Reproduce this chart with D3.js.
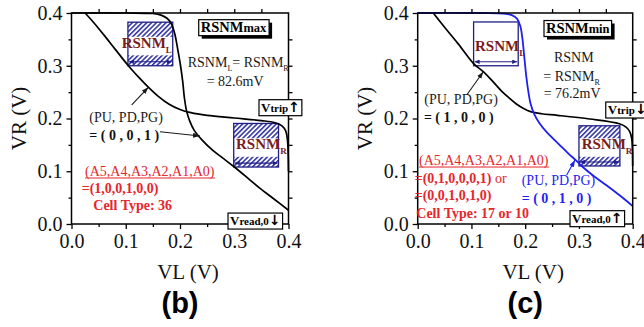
<!DOCTYPE html>
<html>
<head>
<meta charset="utf-8">
<script src="https://cdn.jsdelivr.net/npm/d3@7"></script>
<style>
  body { margin: 0; background: #fff; }
  svg { display: block; }
</style>
</head>
<body>
<svg id="chart" width="644" height="327"></svg>
<script>
// ---- axis ticks (V) ----
const majorTicks = [0.0, 0.1, 0.2, 0.3, 0.4];
const minorTicks = [0.05, 0.15, 0.25, 0.35];
const frameTicks = [0.05, 0.1, 0.15, 0.2, 0.25, 0.3, 0.35];
const tickLabels = ["0.0", "0.1", "0.2", "0.3", "0.4"];

// ---- (b) butterfly curves, points are [VL, VR] in volts ----
const curveB1 = [[0.025, 0.400], [0.040, 0.383], [0.060, 0.358], [0.080, 0.332], [0.104, 0.301],
  [0.125, 0.277], [0.142, 0.259], [0.160, 0.242], [0.180, 0.227], [0.200, 0.217], [0.220, 0.211],
  [0.250, 0.206], [0.300, 0.201], [0.350, 0.196], [0.375, 0.192], [0.388, 0.186], [0.395, 0.176],
  [0.398, 0.160], [0.3995, 0.130], [0.400, 0.100]];
const curveB2 = [[0.000, 0.400], [0.100, 0.400], [0.150, 0.399], [0.165, 0.396], [0.176, 0.390],
  [0.184, 0.380], [0.190, 0.362], [0.196, 0.330], [0.201, 0.300], [0.205, 0.270], [0.208, 0.240],
  [0.212, 0.215], [0.218, 0.195], [0.226, 0.178], [0.240, 0.160], [0.260, 0.140], [0.279, 0.125],
  [0.299, 0.109], [0.325, 0.087], [0.347, 0.068], [0.375, 0.046], [0.400, 0.026]];

// ---- (c) butterfly curves ----
const curveC1 = [[0.029, 0.400], [0.050, 0.373], [0.075, 0.342], [0.104, 0.304], [0.123, 0.288],
  [0.140, 0.270], [0.157, 0.251], [0.170, 0.239], [0.183, 0.228], [0.197, 0.219], [0.210, 0.213],
  [0.230, 0.209], [0.260, 0.206], [0.320, 0.199], [0.375, 0.190], [0.387, 0.184], [0.394, 0.176],
  [0.398, 0.163], [0.3995, 0.140], [0.400, 0.110]];
const curveC2 = [[0.000, 0.400], [0.120, 0.400], [0.160, 0.399], [0.175, 0.396], [0.185, 0.389],
  [0.191, 0.375], [0.195, 0.350], [0.198, 0.320], [0.202, 0.280], [0.206, 0.250], [0.210, 0.228],
  [0.217, 0.208], [0.226, 0.192], [0.240, 0.174], [0.262, 0.152], [0.280, 0.134], [0.295, 0.120],
  [0.305, 0.110], [0.325, 0.093], [0.349, 0.075], [0.375, 0.055], [0.400, 0.034]];

// ---- noise-margin squares: [VL of left edge, VR of bottom edge, side] ----
const rsnmB = 0.0826;          // 82.6 mV
const rsnmCR = 0.0762;         // 76.2 mV
const rsnmCL = 0.0830;
const squaresB = [[0.104, 0.300, rsnmB], [0.299, 0.108, rsnmB]];
const squaresC = [[0.104, 0.300, rsnmCL], [0.300, 0.110, rsnmCR]];

const SERIF = "'Liberation Serif', 'Times New Roman', serif";
const ARROWFONT = "'DejaVu Sans', sans-serif";
const RED = "#e6262c", MAROON = "#7a1c1c", NAVY = "#1f1f86", BLUE = "#1f1ff0", INK = "#1a1a1a";

const svg = d3.select("#chart");
const defs = svg.append("defs");

// diagonal hatching
const pat = defs.append("pattern").attr("id", "hatch").attr("patternUnits", "userSpaceOnUse")
  .attr("width", 3.4).attr("height", 3.4).attr("patternTransform", "rotate(45)");
pat.append("rect").attr("width", 3.4).attr("height", 3.4).attr("fill", "#fff");
pat.append("line").attr("x1", 0.8).attr("y1", 0).attr("x2", 0.8).attr("y2", 3.4)
  .attr("stroke", "#2a2aa0").attr("stroke-width", 1.5);

function arrowMarker(id, color, len, wid) {
  defs.append("marker").attr("id", id).attr("markerUnits", "userSpaceOnUse")
    .attr("viewBox", `0 0 ${len} ${wid}`).attr("refX", len).attr("refY", wid / 2)
    .attr("markerWidth", len).attr("markerHeight", wid).attr("orient", "auto-start-reverse")
    .append("path").attr("d", `M0,0 L${len},${wid / 2} L0,${wid} Z`).attr("fill", color);
}
arrowMarker("arrK", INK, 7, 5);
arrowMarker("arrB", BLUE, 7, 5);
arrowMarker("arrN", NAVY, 5, 4.5);

// rich text: parts = [{t, s, w, c, dy}]
function rich(g, x, y, parts, base) {
  const t = g.append("text").attr("x", x).attr("y", y)
    .attr("font-family", base.f || SERIF).attr("fill", base.c || INK);
  parts.forEach(p => {
    const sp = t.append("tspan").text(p.t).attr("font-size", p.s || base.s)
      .attr("font-weight", p.w || base.w || "normal");
    if (p.dy) sp.attr("dy", p.dy);
    if (p.c) sp.attr("fill", p.c);
    if (p.f) sp.attr("font-family", p.f);
  });
  return t;
}

function drawPanel(cfg) {
  const x = d3.scaleLinear().domain([0, 0.4]).range([cfg.left, cfg.right]);
  const y = d3.scaleLinear().domain([0, 0.4]).range([224, 13]);
  const g = svg.append("g");

  // noise-margin squares
  cfg.squares.forEach((sq, i) => {
    const [vl, vr, s] = sq;
    const bx = x(vl), by = y(vr + s), bw = x(vl + s) - x(vl), bh = y(vr) - y(vr + s);
    const hatched = cfg.hatched[i];
    g.append("rect").attr("x", bx).attr("y", by).attr("width", bw).attr("height", bh)
      .attr("fill", hatched ? "url(#hatch)" : "#fff");
    const lb = cfg.boxLabels[i];
    if (hatched) {
      g.append("rect").attr("x", bx).attr("y", y(lb.vr) - 11).attr("width", bw).attr("height", 18.5)
        .attr("fill", "#fff");
    }
    g.append("rect").attr("x", bx).attr("y", by).attr("width", bw).attr("height", bh)
      .attr("fill", "none").attr("stroke", NAVY).attr("stroke-width", 1.3);
    g.append("line").attr("x1", bx + 1).attr("x2", bx + bw - 1)
      .attr("y1", by + bh - 4).attr("y2", by + bh - 4)
      .attr("stroke", NAVY).attr("stroke-width", 1.2)
      .attr("marker-start", "url(#arrN)").attr("marker-end", "url(#arrN)");
    rich(g, x(lb.vl), y(lb.vr), [{ t: "RSNM" }, { t: lb.sub, s: 9, dy: 5 }],
      { s: 15, w: "bold", c: MAROON });
  });

  // curves
  const line = d3.line().x(d => x(d[0])).y(d => y(d[1])).curve(d3.curveCatmullRom.alpha(0.5));
  cfg.curves.forEach(c => {
    g.append("path").datum(c.data).attr("d", line).attr("fill", "none")
      .attr("stroke", c.color).attr("stroke-width", c.width);
  });

  // frame and axes
  g.append("rect").attr("x", x(0)).attr("y", y(0.4)).attr("width", x(0.4) - x(0))
    .attr("height", y(0) - y(0.4)).attr("fill", "none").attr("stroke", "#000").attr("stroke-width", 1.5);

  const styleAxis = sel => {
    sel.select(".domain").remove();
    sel.selectAll(".tick line").attr("stroke", "#000").attr("stroke-width", 1.3);
  };
  const fmt = d => tickLabels[majorTicks.indexOf(d)];
  g.append("g").attr("transform", `translate(0,${y(0)})`)
    .call(d3.axisBottom(x).tickValues(majorTicks).tickFormat(fmt).tickSize(5).tickPadding(5))
    .call(styleAxis)
    .call(s => s.selectAll("text").attr("font-family", SERIF).attr("font-size", 20).attr("fill", "#111"));
  g.append("g").attr("transform", `translate(0,${y(0)})`)
    .call(d3.axisBottom(x).tickValues(minorTicks).tickFormat("").tickSize(3)).call(styleAxis);
  g.append("g").attr("transform", `translate(${x(0)},0)`)
    .call(d3.axisLeft(y).tickValues(majorTicks).tickFormat(fmt).tickSize(5).tickPadding(4))
    .call(styleAxis)
    .call(s => s.selectAll("text").attr("font-family", SERIF).attr("font-size", 20).attr("fill", "#111"));
  g.append("g").attr("transform", `translate(${x(0)},0)`)
    .call(d3.axisLeft(y).tickValues(minorTicks).tickFormat("").tickSize(3)).call(styleAxis);
  g.append("g").attr("transform", `translate(0,${y(0.4)})`)
    .call(d3.axisTop(x).tickValues(frameTicks).tickFormat("").tickSize(4)).call(styleAxis);
  g.append("g").attr("transform", `translate(${x(0.4)},0)`)
    .call(d3.axisRight(y).tickValues(frameTicks).tickFormat("").tickSize(4)).call(styleAxis);

  // axis titles
  g.append("text").attr("x", (x(0) + x(0.4)) / 2 + 8).attr("y", 279).attr("text-anchor", "middle")
    .attr("font-family", SERIF).attr("font-size", 21).attr("fill", "#111").text("VL (V)");
  g.append("text").attr("transform", `translate(${x(0) - 46},${(y(0) + y(0.4)) / 2}) rotate(-90)`)
    .attr("text-anchor", "middle").attr("font-family", SERIF).attr("font-size", 21).attr("fill", "#111")
    .text("VR (V)");
  g.append("text").attr("x", (x(0) + x(0.4)) / 2).attr("y", 313).attr("text-anchor", "middle")
    .attr("font-family", "'Liberation Sans', Arial, sans-serif").attr("font-weight", "bold")
    .attr("font-size", 29).attr("fill", "#000").text(cfg.tag);

  // framed labels
  cfg.tags.forEach(tg => {
    const t = rich(g, x(tg.vl), y(tg.vr), tg.parts, { s: 14, w: "bold", c: "#000" });
    const bb = t.node().getBBox();
    const r = { x: bb.x - 2, y: bb.y + 1, w: bb.width + 4, h: bb.height };
    if (tg.shadow) {
      g.insert("rect", () => t.node()).attr("x", r.x + 3).attr("y", r.y + 3).attr("width", r.w)
        .attr("height", r.h).attr("fill", "#000");
    }
    g.insert("rect", () => t.node()).attr("x", r.x).attr("y", r.y).attr("width", r.w).attr("height", r.h)
      .attr("fill", "#fff").attr("stroke", "#000").attr("stroke-width", 1.2);
  });

  // annotations
  cfg.notes.forEach(n => {
    const t = rich(g, x(n.vl), y(n.vr), n.parts, { s: n.s || 14, w: n.w, c: n.c });
    if (n.underline) {
      const bb = t.node().getBBox();
      g.append("line").attr("x1", bb.x).attr("x2", bb.x + bb.width)
        .attr("y1", y(n.vr) + 2).attr("y2", y(n.vr) + 2)
        .attr("stroke", n.c).attr("stroke-width", 1);
    }
  });
  cfg.pointers.forEach(p => {
    g.append("line").attr("x1", x(p.from[0])).attr("y1", y(p.from[1]))
      .attr("x2", x(p.to[0])).attr("y2", y(p.to[1]))
      .attr("stroke", p.color).attr("stroke-width", 1.1)
      .attr("marker-end", p.color === BLUE ? "url(#arrB)" : "url(#arrK)");
  });
}

drawPanel({
  left: 71.5, right: 288.5, tag: "(b)",
  squares: squaresB, hatched: [true, true],
  boxLabels: [{ vl: 0.0925, vr: 0.334, sub: "L" }, { vl: 0.3032, vr: 0.1416, sub: "R" }],
  curves: [{ data: curveB1, color: "#000", width: 1.7 }, { data: curveB2, color: "#000", width: 1.7 }],
  tags: [
    { vl: 0.2382, vr: 0.3646, shadow: true, parts: [{ t: "RSNM", s: 14.5 }, { t: "max", s: 12.5 }] },
    { vl: 0.3493, vr: 0.2129, parts: [{ t: "V", s: 13 }, { t: "trip", s: 11 }, { t: "↑", f: ARROWFONT, s: 14 }] },
    { vl: 0.2922, vr: -0.002, parts: [{ t: "V", s: 13 }, { t: "read,0", s: 11 }, { t: "↓", f: ARROWFONT, s: 14 }] }
  ],
  notes: [
    { vl: 0.2142, vr: 0.2982, parts: [{ t: "RSNM" }, { t: "L", s: 8, dy: 4 }, { t: "= RSNM", dy: -4 }, { t: "R", s: 8, dy: 4 }] },
    { vl: 0.2492, vr: 0.2616, parts: [{ t: "= 82.6mV" }] },
    { vl: 0.0328, vr: 0.1939, parts: [{ t: "(PU, PD,PG)" }], c: "#222" },
    { vl: 0.0328, vr: 0.1592, parts: [{ t: "= ( 0 , 0 , 1 )" }], w: "bold", c: "#111" },
    { vl: 0.0249, vr: 0.0910, parts: [{ t: "(A5,A4,A3,A2,A1,A0)" }], c: RED, underline: true },
    { vl: 0.0188, vr: 0.0593, parts: [{ t: "=(1,0,0,1,0,0)" }], w: "bold", c: RED },
    { vl: 0.0402, vr: 0.0265, parts: [{ t: "Cell Type: 36" }], w: "bold", c: RED }
  ],
  pointers: [
    { from: [0.111, 0.2256], to: [0.1416, 0.2592], color: INK },
    { from: [0.1631, 0.1750], to: [0.2369, 0.1668], color: INK }
  ]
});

drawPanel({
  left: 417.7, right: 632.7, tag: "(c)",
  squares: squaresC, hatched: [false, true],
  boxLabels: [{ vl: 0.1066, vr: 0.3285, sub: "L" }, { vl: 0.3051, vr: 0.1416, sub: "R" }],
  curves: [{ data: curveC1, color: "#000", width: 1.7 }, { data: curveC2, color: BLUE, width: 1.8 }],
  tags: [
    { vl: 0.2387, vr: 0.3630, shadow: true, parts: [{ t: "RSNM", s: 14.5 }, { t: "min", s: 12.5 }] },
    { vl: 0.3536, vr: 0.2085, parts: [{ t: "V", s: 13 }, { t: "trip", s: 11 }, { t: "↓", f: ARROWFONT, s: 14 }] },
    { vl: 0.2871, vr: 0.0025, parts: [{ t: "V", s: 13 }, { t: "read,0", s: 11 }, { t: "↑", f: ARROWFONT, s: 14 }] }
  ],
  notes: [
    { vl: 0.2536, vr: 0.3071, parts: [{ t: "RSNM" }] },
    { vl: 0.2337, vr: 0.2705, parts: [{ t: "= RSNM" }, { t: "R", s: 8, dy: 4 }] },
    { vl: 0.2344, vr: 0.2389, parts: [{ t: "= 76.2mV" }] },
    { vl: 0.0123, vr: 0.2269, parts: [{ t: "(PU, PD,PG)" }], c: "#222" },
    { vl: 0.0115, vr: 0.1939, parts: [{ t: "= ( 1 , 0 , 0 )" }], w: "bold", c: "#111" },
    { vl: 0.0024, vr: 0.1118, parts: [{ t: "(A5,A4,A3,A2,A1,A0)" }], c: RED, underline: true },
    { vl: -0.0056, vr: 0.0772, parts: [{ t: "=(0,1,0,0,0,1)", w: "bold" }, { t: " or" }], c: RED },
    { vl: -0.0056, vr: 0.0455, parts: [{ t: "=(0,0,1,0,1,0)" }], w: "bold", c: RED },
    { vl: -0.0026, vr: 0.0108, parts: [{ t: "Cell Type: 17 or 10" }], w: "bold", c: RED },
    { vl: 0.1935, vr: 0.0739, parts: [{ t: "(PU, PD,PG)" }], c: BLUE },
    { vl: 0.1935, vr: 0.0404, parts: [{ t: "= ( 0 , 1 , 0 )" }], w: "bold", c: BLUE }
  ],
  pointers: [
    { from: [0.0912, 0.2445], to: [0.1220, 0.2887], color: INK },
    { from: [0.2772, 0.0929], to: [0.2927, 0.1213], color: BLUE }
  ]
});
</script>
</body>
</html>
